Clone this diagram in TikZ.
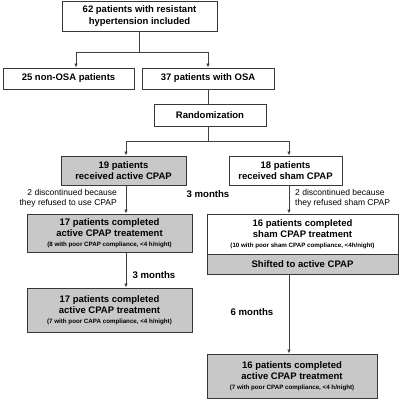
\documentclass[tikz,border=0pt]{standalone}
\usepackage{fontspec}
\setmainfont{Liberation Sans}
\usepackage{xcolor}
\usepackage{tikz}
\usetikzlibrary{arrows.meta, positioning, calc}
\definecolor{boxgray}{RGB}{200,200,200}
\definecolor{edgegray}{RGB}{55,55,55}
\definecolor{linegray}{RGB}{64,64,64}
\tikzset{
  whitebox/.style={
      draw=edgegray,
      fill=white,
      rectangle,
      line width=0.9pt,
      inner sep=0pt,
      align=center,
      font=\bfseries\fontsize{9.5}{11.5}\selectfont
  },
  graybox/.style={
      whitebox,
      fill=boxgray
  },
  note/.style={
      font=\fontsize{8.5}{10}\selectfont,
      inner sep=0pt
  },
  period/.style={
      font=\bfseries\fontsize{9.6}{11}\selectfont,
      inner sep=0pt
  },
  arrow/.style={-{Latex[length=4pt,width=3.5pt]}, draw=linegray, line width=0.9pt},
  link/.style={draw=linegray, line width=0.9pt}
}
\newcommand{\compl}[1]{\\[-1.5pt]{\fontsize{6.2}{7}\selectfont #1}}

\begin{document}
\begin{tikzpicture}[x=1pt, y=-1pt]
      \useasboundingbox (0,0) rectangle (400,400);
      % Basic boxes
      \node (included) [whitebox, minimum width=155, minimum height=30] at (139.5,16) {62 patients with resistant\\hypertension included};
      \node (nonosa) [whitebox, minimum width=131, minimum height=21] at (68.5,78.5) {25 non-OSA patients};
      \node (osa) [whitebox, minimum width=132, minimum height=21] at (208,78.5) {37 patients with OSA};
      \node (rand) [whitebox, minimum width=112, minimum height=22] at (210,115) {Randomization};
      \node (active) [graybox, minimum width=125, minimum height=29] at (123.5,170.5) {19 patients\\received active CPAP};
      \node (sham) [whitebox, minimum width=113, minimum height=29] at (285.5,170.5) {18 patients\\received sham CPAP};
      \node (activedone) [graybox, minimum width=165, minimum height=38] at (109.5,233) {17 patients completed\\active CPAP treatement\compl{(8 with poor CPAP  compliance, <4 h/night)}};
      \node (shamdone) [whitebox, minimum width=191, minimum height=40] at (302.5,234) {16 patients completed\\sham CPAP treatment\compl{(10 with poor sham CPAP compliance, <4h/night)}};
      \node (shifted) [graybox, minimum width=191, minimum height=20] at (302.5,264) {Shifted to active CPAP};
      \node (activefinal) [graybox, minimum width=165, minimum height=44] at (109.5,310) {17 patients completed\\active CPAP treatment\compl{(7 with poor CAPA  compliance, <4 h/night)}};
      \node (shamfinal) [graybox, minimum width=170, minimum height=44] at (292,376) {16 patients completed\\active CPAP treatment\compl{(7 with poor CPAP  compliance, <4 h/night)}};

      % Labels
      \node (dropleft) [note, align=right, anchor=east] at (117,198) {2 discontinued because\\they refused to use CPAP};
      \node (dropright) [note, align=left, anchor=west] at (295,198) {2 discontinued because\\they refused sham CPAP};
      \node (first3) [period] at (208,194) {3 months};
      \node (second3) [period] at (154,275) {3 months};
      \node (six) [period] at (252,312) {6 months};

      % Connections
      \coordinate (split) at (139.5,52);
      \coordinate (branch) at (208,141);
      \coordinate (leftcol) at (126,141);
      \coordinate (rightcol) at (289,141);
      \draw[link] (included) -- (split);
      \draw[arrow] (split) -| ([xshift=7.5]nonosa.north);
      \draw[arrow] (split) -| (osa.north);
      \draw[link] (osa.south) -- (osa.south |- rand.north);
      \draw[link] (osa.south |- rand.south) -- (branch);
      \draw[arrow] (branch) -| (leftcol |- active.north);
      \draw[arrow] (branch) -| (rightcol |- sham.north);
      \draw[arrow] (leftcol |- active.south) -- (leftcol |- activedone.north);
      \draw[arrow] (rightcol |- sham.south) -- (rightcol |- shamdone.north);
      \draw[arrow] (leftcol |- activedone.south) -- (leftcol |- activefinal.north);
      \draw[arrow] (rightcol |- shifted.south) -- (rightcol |- shamfinal.north);
    \end{tikzpicture}
\end{document}
